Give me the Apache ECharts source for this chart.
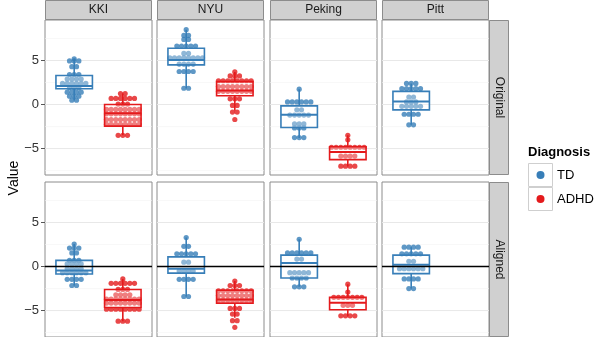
<!DOCTYPE html>
<html>
<head>
<meta charset="utf-8">
<script src="https://cdn.jsdelivr.net/npm/echarts@6/dist/echarts.min.js"></script>
<style>
  body { margin: 0; background: #fff; }
  #main { width: 595px; height: 337px; }
</style>
</head>
<body>
<div id="main"></div>
<script>
var sites = ['KKI', 'NYU', 'Peking', 'Pitt'];
var rows = ['Original', 'Aligned'];
var yTicks = [-5, 0, 5];
var gridMajor = [-5, 0, 5];
var gridMinor = [-7.5, -2.5, 2.5, 7.5];

// box stats per site: [min, q1, median, q3, max]
var boxOrigTD = [[0.5, 1.8, 2.1, 3.3, 5.2], [1.85, 4.5, 5.05, 6.4, 8.5], [-3.8, -2.6, -1.15, -0.15, 1.75], [-2.3, -0.6, 0.35, 1.5, 2.4]];
var boxOrigADHD = [[-3.5, -2.45, -1.0, 0.0, 1.25], [-0.7, 1.0, 1.6, 2.6, 3.7], [-7.0, -6.25, -5.4, -4.8, -3.5], null];
var boxAlignTD = [[-2.15, -0.85, -0.45, 0.7, 2.55], [-3.4, -0.75, -0.25, 1.1, 3.3], [-2.3, -1.3, 0.4, 1.3, 3.1], [-2.5, -0.8, 0.2, 1.3, 2.2]];
var boxAlignADHD = [[-6.2, -4.65, -3.8, -2.6, -1.4], [-5.8, -4.15, -3.75, -2.7, -1.65], [-5.65, -4.9, -4.1, -3.5, -2.0], null];

// dots per site: [value, count] rows
var dotsOrigTD = [
  [[5.2, 1], [4.95, 3], [4.3, 2], [3.4, 3], [2.9, 4], [2.4, 6], [1.9, 3], [1.4, 4], [0.95, 3], [0.5, 2]],
  [[8.5, 1], [7.85, 2], [7.4, 2], [6.65, 5], [5.8, 2], [5.3, 8], [4.6, 4], [3.75, 4], [1.85, 2]],
  [[1.75, 1], [0.3, 6], [-0.6, 2], [-1.2, 5], [-2.2, 3], [-2.65, 3], [-3.75, 3]],
  [[2.4, 3], [1.8, 5], [0.85, 2], [0.3, 3], [-0.2, 5], [-1.1, 4], [-2.3, 2]]
];
var dotsOrigADHD = [
  [[1.25, 2], [0.7, 6], [0.05, 3], [-0.55, 8], [-1.05, 8], [-1.7, 8], [-2.25, 8], [-3.5, 3]],
  [[3.7, 1], [3.25, 3], [2.7, 8], [2.05, 8], [1.5, 8], [0.65, 3], [-0.1, 2], [-0.85, 2], [-1.7, 1]],
  [[-3.5, 1], [-4.0, 1], [-4.85, 8], [-5.85, 4], [-7.0, 4]],
  []
];
var dotsAlignTD = [
  [[2.55, 1], [2.1, 3], [1.55, 2], [0.7, 3], [0.3, 4], [-0.25, 4], [-0.7, 6], [-1.45, 4], [-2.15, 2]],
  [[3.3, 1], [2.3, 2], [1.45, 5], [0.5, 2], [-0.5, 4], [-1.45, 4], [-3.4, 2]],
  [[3.1, 1], [1.55, 6], [0.85, 2], [-0.7, 5], [-1.3, 4], [-2.3, 3]],
  [[2.2, 4], [1.45, 5], [0.6, 2], [-0.25, 6], [-1.4, 4], [-2.5, 2]]
];
var dotsAlignADHD = [
  [[-1.4, 1], [-1.9, 6], [-2.6, 3], [-3.2, 4], [-3.7, 8], [-4.15, 8], [-4.85, 8], [-6.2, 3]],
  [[-1.65, 1], [-2.15, 3], [-2.75, 8], [-3.3, 8], [-3.8, 8], [-4.75, 3], [-5.4, 2], [-6.15, 2], [-6.9, 1]],
  [[-2.0, 1], [-2.9, 1], [-3.5, 7], [-4.4, 3], [-5.6, 4]],
  []
];

var TD_COLOR = '#377EB8';
var ADHD_COLOR = '#E41A1C';
var FONT = 'Liberation Sans, Arial, sans-serif';
var DOT = 0.096; // dot spacing in x units

var panelLeft = [45, 157, 270, 382];
var panelTop = [20, 182];
var PW = 107, PH = 155;

function dotPoints(x, bins) {
  var out = [];
  bins.forEach(function (b) {
    for (var i = 0; i < b[1]; i++) {
      out.push([x + (i - (b[1] - 1) / 2) * DOT, b[0]]);
    }
  });
  return out;
}

function hRender(color, width) {
  return function (params, api) {
    var a = api.coord([0.4, api.value(1)]);
    var b = api.coord([2.6, api.value(1)]);
    return { type: 'line', shape: { x1: a[0], y1: a[1], x2: b[0], y2: b[1] }, style: { stroke: color, lineWidth: width } };
  };
}

function boxRender(params, api) {
  var x = api.value(0);
  var color = x < 1.5 ? TD_COLOR : ADHD_COLOR;
  var pMin = api.coord([x, api.value(1)]);
  var pQ1 = api.coord([x, api.value(2)]);
  var pMed = api.coord([x, api.value(3)]);
  var pQ3 = api.coord([x, api.value(4)]);
  var pMax = api.coord([x, api.value(5)]);
  var hw = api.size([0.375, 0])[0];
  var st = { stroke: color, lineWidth: 1.6, fill: null };
  return {
    type: 'group',
    children: [
      { type: 'line', shape: { x1: pMax[0], y1: pMax[1], x2: pQ3[0], y2: pQ3[1] }, style: st },
      { type: 'line', shape: { x1: pQ1[0], y1: pQ1[1], x2: pMin[0], y2: pMin[1] }, style: st },
      { type: 'rect', shape: { x: pQ3[0] - hw, y: pQ3[1], width: hw * 2, height: pQ1[1] - pQ3[1] },
        style: { stroke: color, lineWidth: 1.6, fill: 'rgba(255,255,255,0.3)' } },
      { type: 'line', shape: { x1: pMed[0] - hw, y1: pMed[1], x2: pMed[0] + hw, y2: pMed[1] }, style: { stroke: color, lineWidth: 2 } }
    ]
  };
}

var grids = [], xAxes = [], yAxes = [], series = [];
var boxes = [[boxOrigTD, boxOrigADHD], [boxAlignTD, boxAlignADHD]];
var dots = [[dotsOrigTD, dotsOrigADHD], [dotsAlignTD, dotsAlignADHD]];

for (var r = 0; r < 2; r++) {
  for (var c = 0; c < 4; c++) {
    var k = r * 4 + c;
    grids.push({ left: panelLeft[c], top: panelTop[r], width: PW, height: PH, show: true,
      borderColor: '#8c8c8c', borderWidth: 1, backgroundColor: '#fff' });
    xAxes.push({ gridIndex: k, type: 'value', min: 0.4, max: 2.6, show: false });
    yAxes.push({
      gridIndex: k, type: 'value', min: -8, max: 9.6,
      axisLine: { show: false },
      splitLine: { show: false },
      axisTick: { show: c === 0, customValues: yTicks, length: 4, lineStyle: { color: '#555' } },
      axisLabel: { show: c === 0, customValues: yTicks, color: '#333', fontSize: 13, fontFamily: FONT, margin: 6,
        formatter: function (v) { return v < 0 ? '\u2212' + (-v) : String(v); } }
    });
    series.push({ type: 'custom', xAxisIndex: k, yAxisIndex: k, silent: true, z: 0,
      data: gridMinor.map(function (v) { return [1, v]; }), renderItem: hRender('#f3f3f3', 0.6) });
    series.push({ type: 'custom', xAxisIndex: k, yAxisIndex: k, silent: true, z: 0,
      data: gridMajor.map(function (v) { return [1, v]; }), renderItem: hRender('#e8e8e8', 1) });

    var tdDots = dots[r][0][c], adDots = dots[r][1][c];
    series.push({ type: 'scatter', xAxisIndex: k, yAxisIndex: k, silent: true, z: 2, symbolSize: 5.2,
      itemStyle: { color: TD_COLOR, opacity: 0.8 }, data: dotPoints(1, tdDots) });
    series.push({ type: 'scatter', xAxisIndex: k, yAxisIndex: k, silent: true, z: 2, symbolSize: 5.2,
      itemStyle: { color: ADHD_COLOR, opacity: 0.8 }, data: dotPoints(2, adDots) });

    var bdata = [];
    if (boxes[r][0][c]) bdata.push([1].concat(boxes[r][0][c]));
    if (boxes[r][1][c]) bdata.push([2].concat(boxes[r][1][c]));
    series.push({ type: 'custom', xAxisIndex: k, yAxisIndex: k, silent: true, z: 3,
      encode: { x: 0, y: [1, 2, 3, 4, 5] }, data: bdata, renderItem: boxRender });

    if (r === 1) {
      series.push({ type: 'custom', xAxisIndex: k, yAxisIndex: k, silent: true, z: 4,
        data: [[1, 0]], renderItem: hRender('#000', 1.6) });
    }
  }
}

var graphics = [];
sites.forEach(function (s, c) {
  graphics.push({ type: 'rect', shape: { x: panelLeft[c] + 0.5, y: 0.5, width: PW - 1, height: 19 },
    style: { fill: '#d0d0d0', stroke: '#8c8c8c', lineWidth: 1 } });
  graphics.push({ type: 'text', x: panelLeft[c] + PW / 2, y: 10,
    style: { text: s, font: '12px ' + FONT, fill: '#1a1a1a', align: 'center', verticalAlign: 'middle' } });
});
rows.forEach(function (s, r) {
  graphics.push({ type: 'rect', shape: { x: 489.5, y: panelTop[r] + 0.5, width: 19, height: PH - 1 },
    style: { fill: '#d0d0d0', stroke: '#8c8c8c', lineWidth: 1 } });
  graphics.push({ type: 'text', x: 499, y: panelTop[r] + PH / 2, rotation: -Math.PI / 2,
    style: { text: s, font: '12px ' + FONT, fill: '#1a1a1a', align: 'center', verticalAlign: 'middle' } });
});
graphics.push({ type: 'text', x: 14, y: 178, rotation: Math.PI / 2,
  style: { text: 'Value', font: '14px ' + FONT, fill: '#000', align: 'center', verticalAlign: 'middle' } });
graphics.push({ type: 'text', x: 528, y: 152,
  style: { text: 'Diagnosis', font: 'bold 13px ' + FONT, fill: '#000', align: 'left', verticalAlign: 'middle' } });
[['TD', TD_COLOR, 163], ['ADHD', ADHD_COLOR, 187]].forEach(function (it) {
  graphics.push({ type: 'rect', shape: { x: 528.5, y: it[2] + 0.5, width: 24, height: 23 },
    style: { fill: '#fff', stroke: '#cfcfcf', lineWidth: 1 } });
  graphics.push({ type: 'circle', shape: { cx: 540.5, cy: it[2] + 12, r: 4 }, style: { fill: it[1] } });
  graphics.push({ type: 'text', x: 557, y: it[2] + 12,
    style: { text: it[0], font: '13px ' + FONT, fill: '#000', align: 'left', verticalAlign: 'middle' } });
});

var chart = echarts.init(document.getElementById('main'), null, { renderer: 'canvas' });
chart.setOption({
  animation: false,
  backgroundColor: '#fff',
  grid: grids,
  xAxis: xAxes,
  yAxis: yAxes,
  series: series,
  graphic: graphics
});
</script>
</body>
</html>
